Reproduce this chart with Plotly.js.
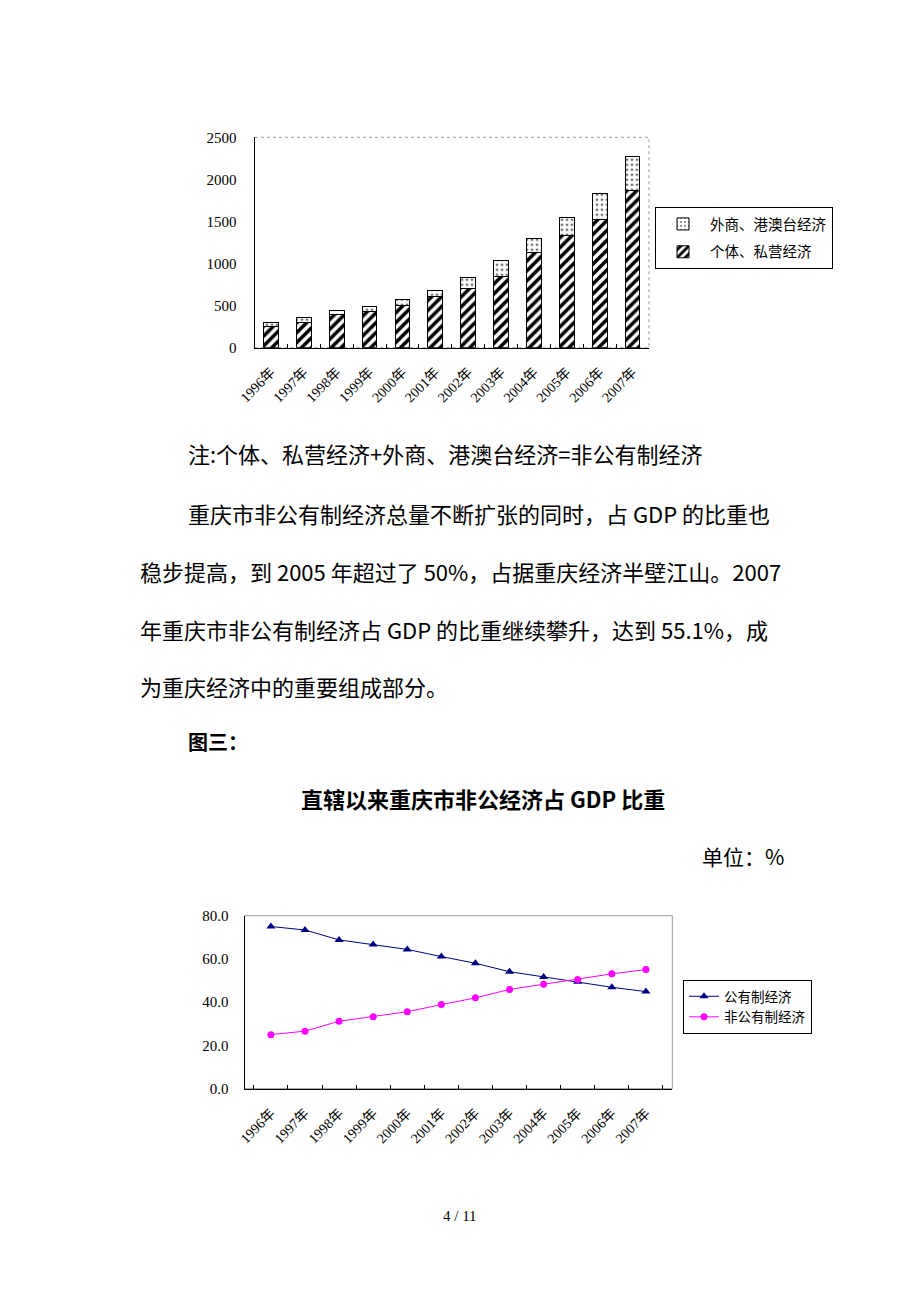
<!DOCTYPE html>
<html>
<head>
<meta charset="utf-8">
<script src="https://cdn.plot.ly/plotly-3.0.1.min.js"></script>
<style>html,body{margin:0;padding:0;background:#fff;}#chart{width:920px;height:1302px;}</style>
</head>
<body>
<div id="chart"></div>
<script>
// ---- data ----
const years = ['1996年','1997年','1998年','1999年','2000年','2001年','2002年','2003年','2004年','2005年','2006年','2007年'];
const privateEcon = [254, 305, 396, 436, 503, 610, 709, 852, 1129, 1339, 1525, 1866]; // 个体、私营经济
const foreignEcon = [47, 52, 52, 59, 64, 71, 131, 186, 174, 206, 309, 408];        // 外商、港澳台经济
const publicShare = [75.0, 73.4, 68.8, 66.7, 64.4, 61.1, 58.0, 54.1, 51.7, 49.5, 46.9, 44.9];   // 公有制经济
const nonPublicShare = [25.0, 26.6, 31.2, 33.3, 35.6, 38.9, 42.0, 45.9, 48.3, 50.5, 53.1, 55.1]; // 非公有制经济
const barTicks = [0, 500, 1000, 1500, 2000, 2500];
const lineTicks = [0, 20, 40, 60, 80];

// ---- helpers ----
const W = 920, H = 1302;
const px = v => v / W;
const py = v => 1 - v / H;
const serif = 'Liberation Serif, Noto Sans CJK SC, serif';
const cjk = 'Noto Sans CJK SC, sans-serif';

const traces = [
  {
    type: 'bar', x: years, y: privateEcon, name: '个体、私营经济',
    xaxis: 'x', yaxis: 'y', legend: 'legend', legendgroup: 'a', legendrank: 2,
    marker: { color: 'white', line: { color: 'black', width: 1 },
      pattern: { shape: '/', fgcolor: 'black', bgcolor: 'white', size: 7, solidity: 0.5 } }
  },
  {
    type: 'bar', x: years, y: foreignEcon, name: '外商、港澳台经济',
    xaxis: 'x', yaxis: 'y', legend: 'legend', legendgroup: 'b', legendrank: 1,
    marker: { color: 'white', line: { color: 'black', width: 1 },
      pattern: { shape: '.', fgcolor: 'black', bgcolor: 'white', size: 5, solidity: 0.12 } }
  },
  {
    type: 'scatter', mode: 'lines+markers', x: years, y: publicShare, name: '公有制经济',
    xaxis: 'x2', yaxis: 'y2', legend: 'legend2',
    line: { color: '#000080', width: 1 },
    marker: { symbol: 'triangle-up', size: 8, color: '#000080' }
  },
  {
    type: 'scatter', mode: 'lines+markers', x: years, y: nonPublicShare, name: '非公有制经济',
    xaxis: 'x2', yaxis: 'y2', legend: 'legend2',
    line: { color: '#FF00FF', width: 1 },
    marker: { symbol: 'circle', size: 7, color: '#FF00FF' }
  }
];

function ann(text, x, y, opts) {
  return Object.assign({
    text: text, xref: 'paper', yref: 'paper', x: px(x), y: py(y),
    xanchor: 'left', yanchor: 'middle', showarrow: false,
    font: { family: cjk, size: 22, color: 'black' }
  }, opts || {});
}

const layout = {
  width: W, height: H,
  margin: { l: 0, r: 0, t: 0, b: 0 },
  paper_bgcolor: 'white', plot_bgcolor: 'white',
  showlegend: true,
  barmode: 'stack', bargap: 0.55,
  font: { family: serif, color: 'black' },
  xaxis: {
    domain: [px(254.5), px(649)], anchor: 'y', type: 'category',
    showline: true, linecolor: 'black', linewidth: 1,
    ticks: 'inside', tickson: 'boundaries', ticklen: 4, tickcolor: 'black',
    tickangle: -45, ticklabelstandoff: 10, tickfont: { family: serif, size: 14 }, showgrid: false
  },
  yaxis: {
    domain: [py(347.7), py(137.3)], anchor: 'x',
    range: [0, 2500], tickvals: barTicks, ticks: '', ticklabelstandoff: 14,
    showline: true, linecolor: 'black', linewidth: 1, showgrid: false, zeroline: false,
    tickfont: { family: serif, size: 15 }
  },
  xaxis2: {
    domain: [px(244.5), px(672.3)], anchor: 'y2', type: 'category',
    showline: true, linecolor: 'black', linewidth: 1,
    ticks: 'inside', tickson: 'boundaries', ticklen: 4, tickcolor: 'black',
    tickangle: -45, ticklabelstandoff: 10, tickfont: { family: serif, size: 14 }, showgrid: false
  },
  yaxis2: {
    domain: [py(1088.7), py(915.7)], anchor: 'x2',
    range: [0, 80], tickvals: lineTicks, tickformat: '.1f', ticks: '', ticklabelstandoff: 12,
    showline: true, linecolor: 'black', linewidth: 1, showgrid: false, zeroline: false,
    tickfont: { family: serif, size: 15 }
  },
  legend: {
    x: px(655), y: py(207), xanchor: 'left', yanchor: 'top',
    bordercolor: 'black', borderwidth: 1, bgcolor: 'white',
    traceorder: 'grouped', tracegroupgap: 6,
    font: { family: cjk, size: 14.5, color: 'black' }, itemwidth: 44
  },
  legend2: {
    x: px(683), y: py(980), xanchor: 'left', yanchor: 'top',
    bordercolor: 'black', borderwidth: 1, bgcolor: 'white',
    font: { family: cjk, size: 13.5, color: 'black' }, itemwidth: 30
  },
  shapes: [
    { type: 'rect', xref: 'x domain', yref: 'y domain', x0: 0, x1: 1, y0: 0, y1: 1,
      line: { color: '#999999', width: 1, dash: 'dot' }, layer: 'below' },
    { type: 'rect', xref: 'x2 domain', yref: 'y2 domain', x0: 0, x1: 1, y0: 0, y1: 1,
      line: { color: '#999999', width: 1 }, layer: 'below' }
  ],
  annotations: [
    ann('注:个体、私营经济+外商、港澳台经济=非公有制经济', 186, 453),
    ann('重庆市非公有制经济总量不断扩张的同时，占 GDP 的比重也', 186, 513),
    ann('稳步提高，到 2005 年超过了 50%，占据重庆经济半壁江山。2007', 138, 571),
    ann('年重庆市非公有制经济占 GDP 的比重继续攀升，达到 55.1%，成', 138, 629),
    ann('为重庆经济中的重要组成部分。', 138, 686),
    ann('<b>图三：</b>', 186, 741, { font: { family: cjk, size: 20, color: 'black' } }),
    ann('<b>直辖以来重庆市非公经济占 GDP 比重</b>', 483, 798, { xanchor: 'center', font: { family: cjk, size: 22, color: 'black' } }),
    ann('单位：%', 700, 856, { font: { family: cjk, size: 21, color: 'black' } }),
    ann('4 / 11', 460, 1216, { xanchor: 'center', font: { family: serif, size: 15, color: 'black' } })
  ]
};

Plotly.newPlot('chart', traces, layout, { staticPlot: true, displayModeBar: false });
</script>
</body>
</html>
